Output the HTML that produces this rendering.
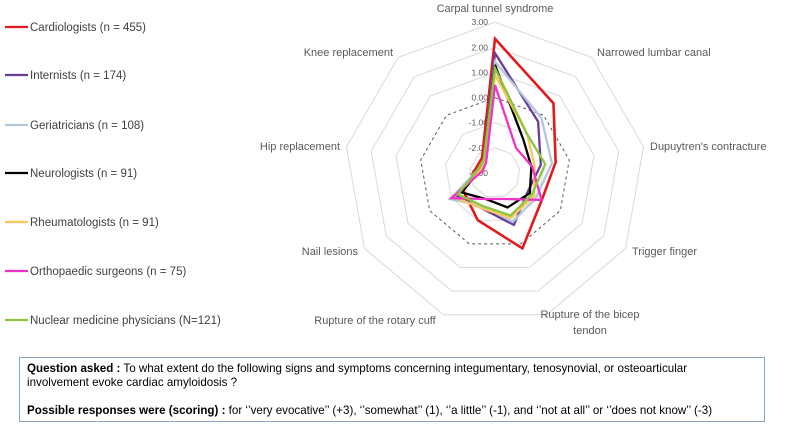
<!DOCTYPE html>
<html><head><meta charset="utf-8"><style>
body{margin:0;background:#fff;width:790px;height:428px;overflow:hidden;font-family:"Liberation Sans",Arial,sans-serif}
#box{position:absolute;left:19px;top:357px;width:746px;height:65px;border:1px solid #8aa6c4;box-sizing:border-box;font-size:11.6px;color:#000;padding:4px 7px;line-height:14px}
</style></head><body>
<svg id="chart" width="790" height="428" style="position:absolute;left:0;top:0">
<g id="grid"></g>
<g id="series"></g>
<g id="labels"></g>
<g id="legend"></g>
</svg>
<div id="box"><b>Question asked :</b> To what extent do the following signs and symptoms concerning integumentary, tenosynovial, or osteoarticular<br>involvement evoke cardiac amyloidosis ?<br><div style="height:14px"></div><b>Possible responses were (scoring) :</b> for ‘’very evocative’’ (+3), ‘’somewhat’’ (1), ‘’a little’’ (-1), and ‘’not at all’’ or ‘’does not know’’ (-3)</div>
<script>
const categories=["Carpal tunnel syndrome","Narrowed lumbar canal","Dupuytren's contracture","Trigger finger","Rupture of the bicep tendon","Rupture of the rotary cuff","Nail lesions","Hip replacement","Knee replacement"];
const tickValues=[3,2,1,0,-1,-2,-3];
const seriesNames=["Cardiologists (n = 455)","Internists (n = 174)","Geriatricians (n = 108)","Neurologists (n = 91)","Rheumatologists (n = 91)","Orthopaedic surgeons (n = 75)","Nuclear medicine physicians (N=121)"];
const seriesColors=["#e31a1c","#6a3d9a","#b4c7dc","#000000","#fdc65c","#f032c8","#8cc63f"];
const cardiologists=[2.34,0.62,-0.55,-0.85,0.19,-1.0,-1.55,-2.2,-2.2];
const internists=[1.77,-0.33,-1.15,-1.5,-0.8,-1.5,-1.2,-2.3,-2.3];
const geriatricians=[1.43,-0.13,-0.7,-1.1,-0.93,-1.6,-0.93,-2.3,-2.3];
const neurologists=[1.3,-1.25,-1.53,-1.4,-1.54,-1.9,-1.46,-2.4,-2.3];
const rheumatologists=[0.9,-1.0,-1.4,-1.2,-1.1,-1.5,-1.1,-2.4,-2.4];
const orthopaedic=[0.5,-1.7,-1.5,-0.86,-1.9,-1.9,-1.0,-2.5,-2.45];
const nuclear=[1.17,-1.0,-0.97,-1.3,-1.2,-1.6,-1.3,-2.3,-2.3];
const allSeries=[cardiologists,internists,geriatricians,neurologists,rheumatologists,orthopaedic,nuclear];
const NS="http://www.w3.org/2000/svg";
const cx=495,cy=173,minV=-3,maxV=3,R=150.8;
function rad(v){return (v-minV)/(maxV-minV)*R;}
function ang(i){return i*2*Math.PI/categories.length;}
function pt(i,v){const r=rad(v),a=ang(i);return [cx+r*Math.sin(a),cy-r*Math.cos(a)];}
function mk(tag,attrs,parent){const e=document.createElementNS(NS,tag);for(const k in attrs)e.setAttribute(k,attrs[k]);parent.appendChild(e);return e;}
const grid=document.getElementById('grid');
tickValues.forEach(t=>{
  if(t===minV)return;
  const pts=categories.map((c,i)=>pt(i,t).join(',')).join(' ');
  const p=mk('polygon',{points:pts,fill:'none',stroke:t===0?'#595959':'#d9d9d9','stroke-width':t===0?1:1,'stroke-dasharray':t===0?'3,3':'none'},grid);
  
  
});
tickValues.forEach(t=>{
  const y=cy-rad(t);
  const tx=mk('text',{x:cx-7,y:y+3,'font-size':8.5,fill:'#595959','text-anchor':'end'},grid);
  tx.textContent=t.toFixed(2);
  
  
});
const sg=document.getElementById('series');
allSeries.forEach((s,k)=>{
  const pts=s.map((v,i)=>pt(i,v).join(',')).join(' ');
  const p=mk('polygon',{points:pts,fill:'none',stroke:seriesColors[k],'stroke-width':k===0?2.6:2.3,'stroke-linejoin':'miter'},sg);
  
  
});
// draw cardiologists last on top? keep order (red first drawn under others)
const lbl=document.getElementById('labels');
const labelPos=[[495,12,'middle'],[597,56,'start'],[650,150,'start'],[632,255,'start'],[590,318,'middle'],[375,324,'middle'],[358,255,'end'],[340,150,'end'],[393,56,'end']];
categories.forEach((c,i)=>{
  const [x,y,an]=labelPos[i];
  const t=mk('text',{x:x,y:y,'font-size':11,fill:'#595959','text-anchor':an},lbl);
  
  
  if(i===4){t.textContent="Rupture of the bicep";const t2=mk('text',{x:x,y:y+16,'font-size':11,fill:'#595959','text-anchor':an},lbl);t2.textContent="tendon";
    
    }
  else t.textContent=c;
});
const lg=document.getElementById('legend');
const legY=[27,75,125,173,222,271,320];
seriesNames.forEach((n,k)=>{
  const l=mk('line',{x1:5,x2:28,y1:legY[k],y2:legY[k],stroke:seriesColors[k],'stroke-width':2.3},lg);
  
  
  const t=mk('text',{x:30,y:legY[k]+4,'font-size':11.5,fill:'#404040'},lg);
  t.textContent=n;
  
  
});
</script>
</body></html>
